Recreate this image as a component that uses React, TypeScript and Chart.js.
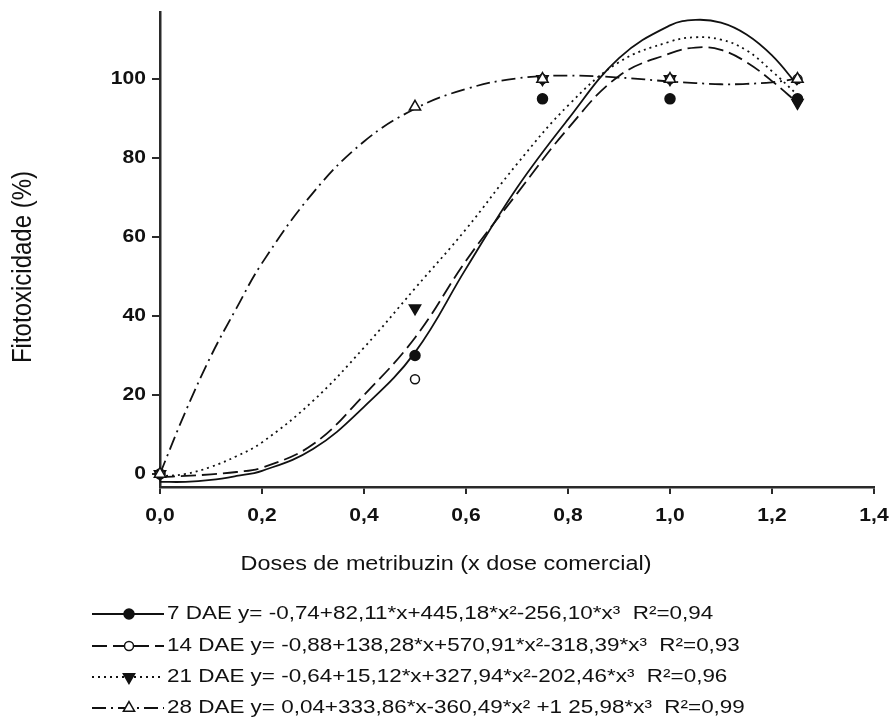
import React, { useEffect, useRef } from "react";
import { Chart, registerables } from "chart.js";

Chart.register(...registerables);

// Fitted response curves (Fitotoxicidade %)
const curveX = [0, 0.05, 0.1, 0.15, 0.2, 0.3, 0.4, 0.5, 0.6, 0.7, 0.8, 0.9, 1.0, 1.05, 1.1, 1.15, 1.2, 1.25];
const fit7 = [-2, -2, -1.5, -0.5, 0.8, 6.3, 17, 30.8, 52, 72.5, 89.8, 105.3, 113.6, 115, 114.3, 111.3, 106, 98.5];
const fit14 = [-0.8, -0.5, -0.1, 0.5, 1.6, 7.5, 20, 34.5, 54, 71, 87.5, 100.8, 106.5, 108, 107.4, 104.3, 99.5, 94];
const fit21 = [-0.6, 0, 1.8, 4.5, 8, 18.5, 32, 47, 62, 78.5, 93.3, 104.3, 109.5, 110.6, 110, 107.3, 102, 96];
const fit28 = [0.04, 15.8, 29.9, 42, 53.4, 71.2, 84.2, 92.5, 97.5, 100.2, 100.9, 100.4, 99.4, 99, 98.7, 98.8, 99.2, 100.1];

// Observed means at each dose
const doseX = [0, 0.5, 0.75, 1.0, 1.25];
const obs7 = [0, 30, 95, 95, 95];
const obs14 = [0, 24, 100, 100, 100];
const obs21 = [0, 42, 100, 100, 94];
const obs28 = [0, 93, 100, 100, 100];

// Axes
const xTickValues = [0, 0.2, 0.4, 0.6, 0.8, 1.0, 1.2, 1.4];
const xTickLabels = ["0,0", "0,2", "0,4", "0,6", "0,8", "1,0", "1,2", "1,4"];
const yTickValues = [0, 20, 40, 60, 80, 100];
const yTickLabels = ["0", "20", "40", "60", "80", "100"];
const xTitle = "Doses de metribuzin (x dose comercial)";
const yTitle = "Fitotoxicidade (%)";

// Legend entries
const seriesNames = ["7 DAE", "14 DAE", "21 DAE", "28 DAE"];
const equations = [
  "y= -0,74+82,11*x+445,18*x²-256,10*x³",
  "y= -0,88+138,28*x+570,91*x²-318,39*x³",
  "y= -0,64+15,12*x+327,94*x²-202,46*x³",
  "y= 0,04+333,86*x-360,49*x² +1 25,98*x³",
];
const r2Labels = ["R²=0,94", "R²=0,93", "R²=0,96", "R²=0,99"];

const INK = "#111";
const FONT = '"Liberation Sans", Arial, Helvetica, sans-serif';
const SX = 1.17; // horizontal stretch of the lettering

type SeriesStyle = {
  dash: number[];
  point: "circle" | "triangle";
  fill: string;
  rotation: number;
  radius: number;
  layer: number; // higher layer is painted first
};

const seriesStyles: SeriesStyle[] = [
  { dash: [], point: "circle", fill: INK, rotation: 0, radius: 5, layer: 3 },
  { dash: [15, 6], point: "circle", fill: "#fff", rotation: 0, radius: 4.5, layer: 2 },
  { dash: [2, 4], point: "triangle", fill: INK, rotation: 180, radius: 6.5, layer: 4 },
  { dash: [14, 5, 2, 5], point: "triangle", fill: "#fff", rotation: 0, radius: 6.5, layer: 1 },
];

const fits = [fit7, fit14, fit21, fit28];
const observed = [obs7, obs14, obs21, obs28];

function drawText(
  ctx: CanvasRenderingContext2D,
  text: string,
  x: number,
  y: number,
  font: string,
  align: CanvasTextAlign,
  sx: number,
  rotate = 0
) {
  ctx.save();
  ctx.translate(x, y);
  ctx.scale(sx, 1);
  if (rotate) ctx.rotate(rotate);
  ctx.font = font;
  ctx.fillStyle = INK;
  ctx.textAlign = align;
  ctx.textBaseline = "middle";
  ctx.fillText(text, 0, 0);
  ctx.restore();
}

function drawMarker(ctx: CanvasRenderingContext2D, s: SeriesStyle, x: number, y: number) {
  ctx.save();
  ctx.beginPath();
  if (s.point === "circle") {
    ctx.arc(x, y, s.radius, 0, Math.PI * 2);
  } else {
    let rad = (s.rotation * Math.PI) / 180;
    for (let k = 0; k < 3; k++) {
      const px = x + Math.sin(rad) * s.radius;
      const py = y - Math.cos(rad) * s.radius;
      if (k === 0) ctx.moveTo(px, py);
      else ctx.lineTo(px, py);
      rad += (2 * Math.PI) / 3;
    }
    ctx.closePath();
  }
  ctx.fillStyle = s.fill;
  ctx.fill();
  ctx.lineWidth = 1.5;
  ctx.strokeStyle = INK;
  ctx.setLineDash([]);
  ctx.stroke();
  ctx.restore();
}

const labelsPlugin = {
  id: "figureLabels",
  afterDraw(chart: any) {
    const ctx: CanvasRenderingContext2D = chart.ctx;
    const xs = chart.scales.x;
    const ys = chart.scales.y;

    const tickFont = `bold 18px ${FONT}`;
    yTickValues.forEach((v, i) => {
      drawText(ctx, yTickLabels[i], 146, ys.getPixelForValue(v), tickFont, "right", SX);
    });
    xTickValues.forEach((v, i) => {
      drawText(ctx, xTickLabels[i], xs.getPixelForValue(v), 516, tickFont, "center", SX);
    });

    drawText(ctx, yTitle, 23, 267, `24px ${FONT}`, "center", SX, -Math.PI / 2);
    drawText(ctx, xTitle, 446, 564, `20px ${FONT}`, "center", SX);

    // Legend block below the plot
    const legendFont = `19.2px ${FONT}`;
    const rowY = [614, 646, 677, 708];
    const lineStart = 92;
    const lineEnd = 164;
    const markerX = 129;
    const textX = 167;
    seriesNames.forEach((name, i) => {
      const s = seriesStyles[i];
      const y = rowY[i];
      ctx.save();
      ctx.beginPath();
      ctx.setLineDash(s.dash);
      ctx.lineWidth = 1.8;
      ctx.strokeStyle = INK;
      ctx.moveTo(lineStart, y);
      ctx.lineTo(lineEnd, y);
      ctx.stroke();
      ctx.restore();
      drawMarker(ctx, s, markerX, y);
      drawText(ctx, `${name} ${equations[i]}  ${r2Labels[i]}`, textX, y, legendFont, "left", SX);
    });
  },
};

export default function App() {
  const canvasRef = useRef<HTMLCanvasElement | null>(null);

  useEffect(() => {
    const canvas = canvasRef.current;
    if (!canvas) return;

    const curveSets = fits.map((vals, i) => ({
      type: "scatter" as const,
      label: seriesNames[i] + " ajuste",
      data: curveX.map((x, j) => ({ x, y: vals[j] })),
      showLine: true,
      borderColor: INK,
      borderWidth: 1.8,
      borderDash: seriesStyles[i].dash,
      pointRadius: 0,
      pointHoverRadius: 0,
      tension: 0.4,
      fill: false,
      order: 10 + i,
    }));

    const pointSets = observed.map((vals, i) => ({
      type: "scatter" as const,
      label: seriesNames[i],
      data: doseX.map((x, j) => ({ x, y: vals[j] })),
      showLine: false,
      pointStyle: seriesStyles[i].point,
      pointRotation: seriesStyles[i].rotation,
      pointRadius: seriesStyles[i].radius,
      pointBackgroundColor: seriesStyles[i].fill,
      pointBorderColor: INK,
      pointBorderWidth: 1.5,
      clip: false as const,
      order: seriesStyles[i].layer,
    }));

    const chart = new Chart(canvas, {
      type: "scatter",
      data: { datasets: [...curveSets, ...pointSets] as any },
      options: {
        responsive: false,
        maintainAspectRatio: false,
        animation: false,
        events: [],
        layout: { padding: { top: 12, right: 15, left: 0, bottom: 0 } },
        plugins: {
          legend: { display: false },
          tooltip: { enabled: false },
          title: { display: false },
        },
        scales: {
          x: {
            type: "linear",
            min: 0,
            max: 1.4,
            afterBuildTicks: (s: any) => {
              s.ticks = xTickValues.map((v) => ({ value: v }));
            },
            afterFit: (s: any) => {
              s.height = 230;
            },
            ticks: { display: false },
            grid: {
              drawOnChartArea: false,
              drawTicks: true,
              tickLength: 7,
              color: "#2a2a2a",
              lineWidth: 2,
            },
            border: { display: true, color: "#2a2a2a", width: 2.5 },
          },
          y: {
            type: "linear",
            min: -3.3,
            max: 117,
            afterBuildTicks: (s: any) => {
              s.ticks = yTickValues.map((v) => ({ value: v }));
            },
            afterFit: (s: any) => {
              s.width = 160;
            },
            ticks: { display: false },
            grid: {
              drawOnChartArea: false,
              drawTicks: true,
              tickLength: 8,
              color: "#2a2a2a",
              lineWidth: 2,
            },
            border: { display: true, color: "#2a2a2a", width: 2.5 },
          },
        },
      },
      plugins: [labelsPlugin],
    });

    return () => chart.destroy();
  }, []);

  return (
    <div style={{ position: "absolute", left: 0, top: 0, width: 889, height: 717, background: "#fff" }}>
      <canvas ref={canvasRef} width={889} height={717} style={{ display: "block" }} />
    </div>
  );
}
